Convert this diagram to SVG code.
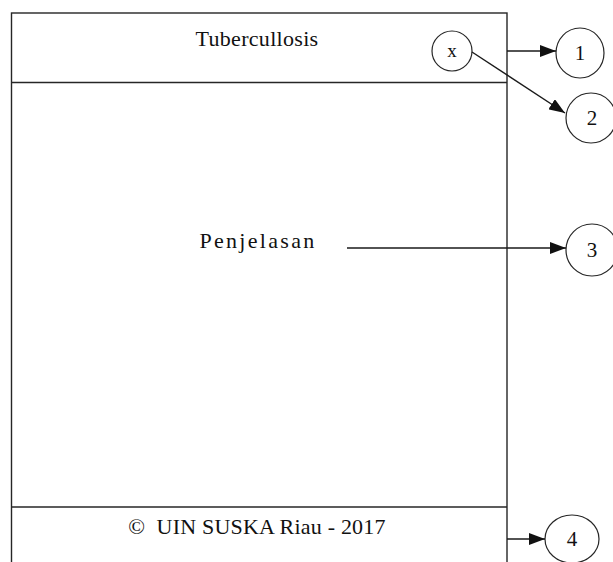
<svg xmlns="http://www.w3.org/2000/svg" width="613" height="562" viewBox="0 0 613 562" font-family="'Liberation Serif', 'Times New Roman', serif">
<defs>
<style>
.frame{fill:none;stroke:#262626;stroke-width:1.4}
.node{fill:#fff;stroke:#262626;stroke-width:1.2}
.conn{fill:none;stroke:#1a1a1a;stroke-width:1.4}
.t{font-family:'Liberation Serif','Times New Roman',serif;fill:#111;text-anchor:middle}
.title{font-size:22px;letter-spacing:0.3px}
.num{font-size:21px}
</style>
<marker id="ah" viewBox="0 0 16 12" refX="16" refY="6" markerWidth="16" markerHeight="12" markerUnits="userSpaceOnUse" orient="auto">
<path d="M0,0 L16,6 L0,12 z" fill="#111"/>
</marker>
</defs>
<rect width="613" height="562" fill="#fff"/>
<g id="window">
<rect class="frame" x="11.5" y="13" width="495.5" height="560"/>
<line class="frame" x1="11.5" y1="82.5" x2="507" y2="82.5"/>
<line class="frame" x1="11.5" y1="507" x2="507" y2="507"/>
<text class="t title" x="257" y="46">Tubercullosis</text>
<text class="t title" x="258" y="248" style="letter-spacing:2.3px">Penjelasan</text>
<text class="t title" x="257" y="534" style="white-space:pre;letter-spacing:0.2px">©  UIN SUSKA Riau - 2017</text>
</g>
<g id="close-button">
<circle class="node" cx="452" cy="51" r="20"/>
<text class="t num" x="452" y="57" style="font-size:19px">x</text>
</g>
<g id="n1">
<ellipse class="node" cx="580" cy="53" rx="24" ry="25"/>
<text class="t num" x="580" y="60">1</text>
</g>
<g id="n2">
<circle class="node" cx="591" cy="118" r="25"/>
<text class="t num" x="592" y="125">2</text>
</g>
<g id="n3">
<circle class="node" cx="592" cy="250" r="26"/>
<text class="t num" x="592" y="257">3</text>
</g>
<g id="n4">
<ellipse class="node" cx="572" cy="539" rx="27" ry="24"/>
<text class="t num" x="572" y="546">4</text>
</g>
<g id="connectors">
<line class="conn" x1="507" y1="51" x2="556" y2="51" marker-end="url(#ah)"/>
<line class="conn" x1="472" y1="52" x2="565" y2="113" marker-end="url(#ah)"/>
<line class="conn" x1="347" y1="248" x2="566" y2="248" marker-end="url(#ah)"/>
<line class="conn" x1="507" y1="539" x2="545" y2="539" marker-end="url(#ah)"/>
</g>
</svg>
